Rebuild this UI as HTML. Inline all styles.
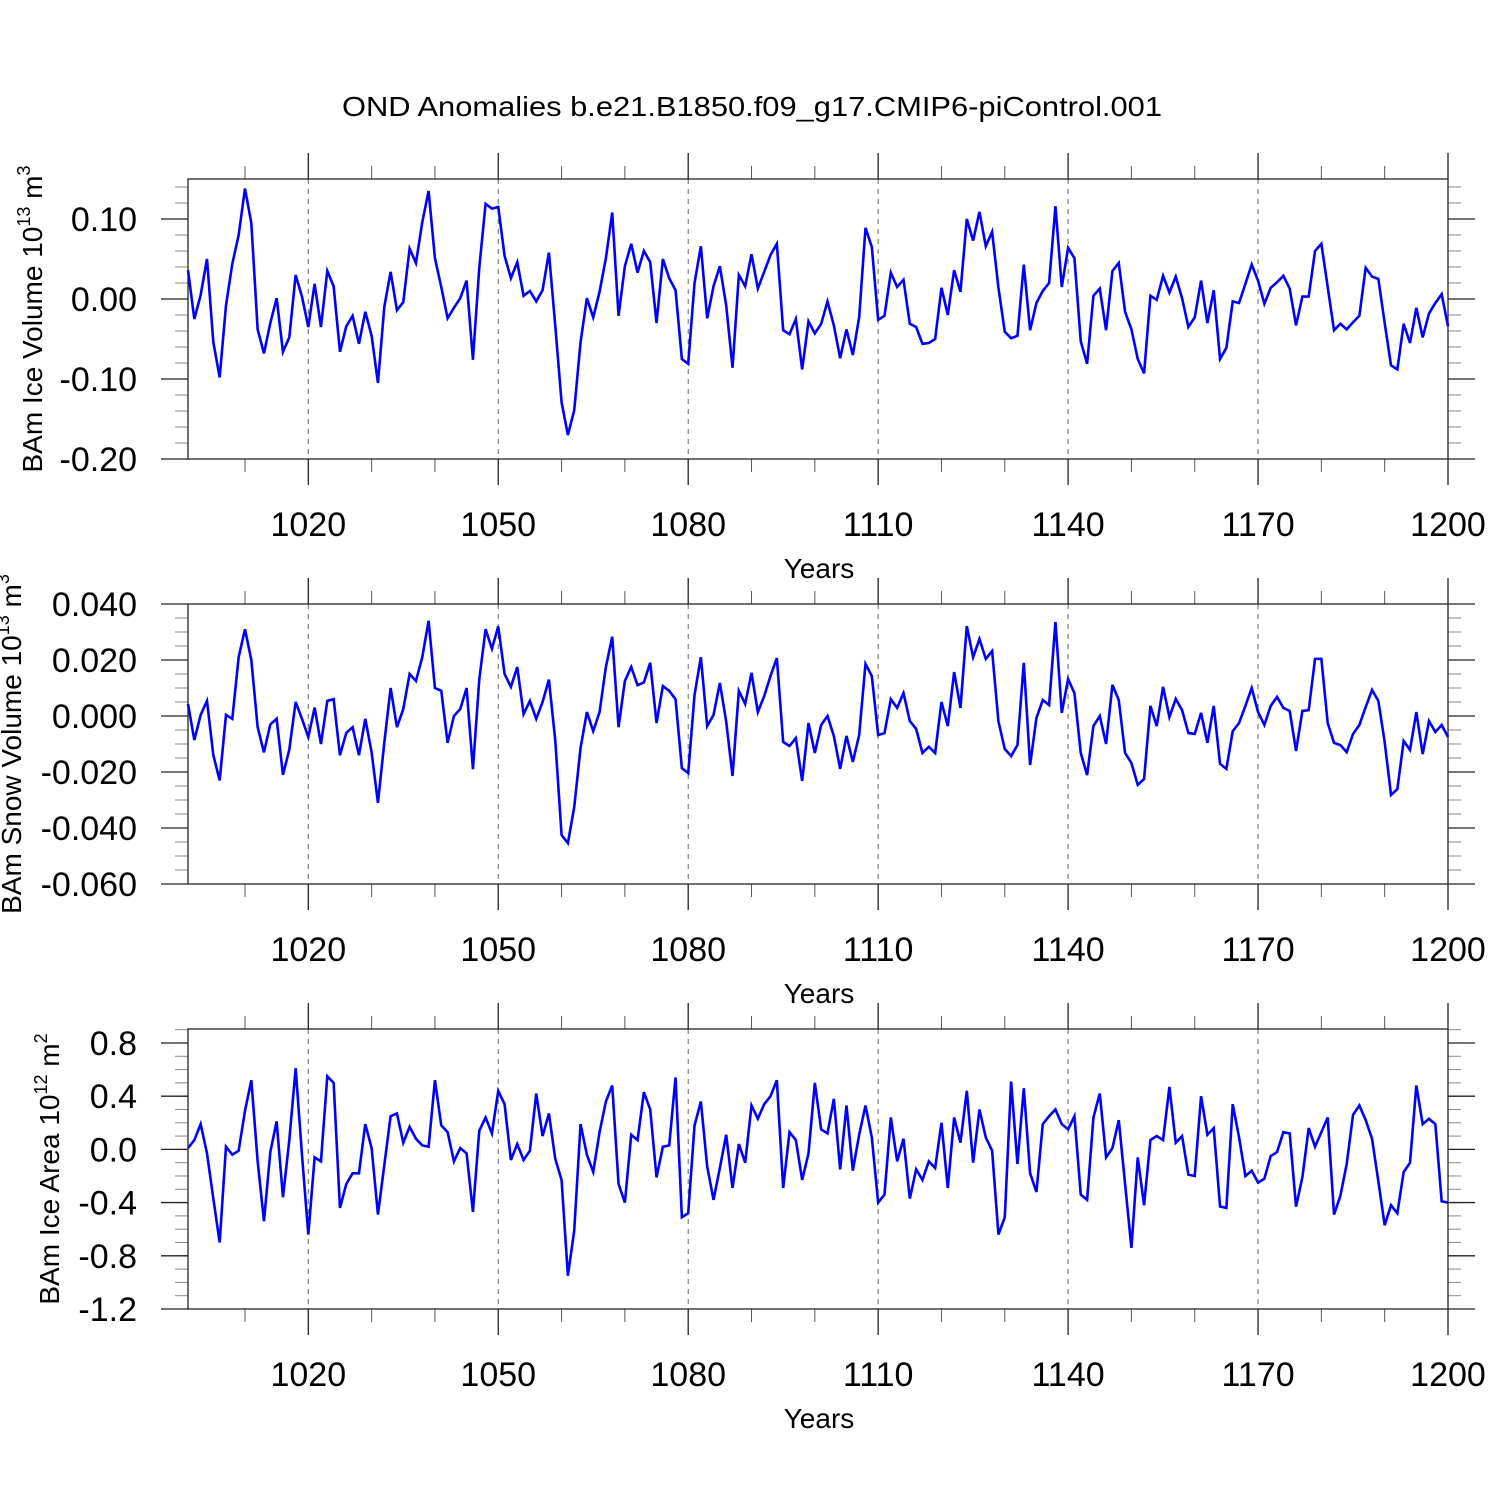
<!DOCTYPE html>
<html><head><meta charset="utf-8"><style>
html,body{margin:0;padding:0;background:#fff;}
svg{display:block;font-family:"Liberation Sans",Arial,sans-serif;}
</style></head><body>
<svg id="chart" width="1500" height="1500" viewBox="0 0 1500 1500" xmlns="http://www.w3.org/2000/svg">
<rect width="1500" height="1500" fill="#fff"/>
<text x="752" y="116" font-size="28" text-anchor="middle" textLength="820" lengthAdjust="spacingAndGlyphs">OND Anomalies b.e21.B1850.f09_g17.CMIP6-piControl.001</text>
<g id="panels"></g>
</svg>
<script>
const years = []; for (let y = 1001; y <= 1200; y++) years.push(y);
const xTicks = [1020,1050,1080,1110,1140,1170,1200];
const xMinor = [1010,1030,1040,1060,1070,1090,1100,1120,1130,1150,1160,1180,1190];

const iceVolume = [0.036,-0.025,0.005,0.05,-0.054,-0.098,-0.008,0.044,0.08,0.138,
0.095,-0.038,-0.068,-0.03,0.001,-0.066,-0.048,0.03,0.003,-0.035,
0.019,-0.035,0.035,0.016,-0.066,-0.034,-0.021,-0.056,-0.016,-0.046,
-0.105,-0.01,0.034,-0.014,-0.004,0.063,0.045,0.096,0.135,0.051,
0.015,-0.024,-0.011,0.001,0.023,-0.076,0.039,0.119,0.113,0.115,
0.054,0.026,0.046,0.004,0.01,-0.003,0.011,0.058,-0.033,-0.129,
-0.17,-0.139,-0.054,0.001,-0.023,0.009,0.051,
0.108,-0.021,0.041,0.069,0.033,0.06,0.046,-0.03,0.05,0.026,
0.011,-0.075,-0.081,0.02,0.066,-0.024,0.016,0.041,-0.008,-0.086,
0.03,0.016,0.056,0.013,0.034,0.055,0.069,-0.039,-0.044,-0.025,
-0.088,-0.028,-0.043,-0.031,-0.003,-0.033,-0.074,-0.038,-0.07,-0.023,
0.089,0.065,-0.026,-0.021,0.033,0.015,0.024,-0.031,-0.035,-0.056,
-0.055,-0.05,0.014,-0.02,0.036,0.009,0.1,0.073,0.109,0.066,
0.084,0.014,-0.041,-0.049,-0.046,0.043,
-0.039,-0.005,0.01,0.02,0.116,0.015,0.064,0.051,-0.053,-0.081,
0.004,0.013,-0.039,0.035,0.045,-0.016,-0.038,-0.075,-0.093,0.004,
-0.001,0.029,0.008,0.028,0.001,-0.035,-0.023,0.023,-0.03,0.011,
-0.075,-0.061,-0.003,-0.005,0.019,0.043,0.023,-0.006,0.014,0.021,
0.029,0.013,-0.033,0.003,0.003,0.06,0.069,0.015,-0.039,-0.031,
-0.038,-0.029,-0.021,0.039,0.028,0.025,-0.03,-0.083,-0.088,-0.031,
-0.055,-0.011,-0.048,-0.018,-0.005,0.006,-0.034];

const snowVolume = [0.0043,-0.0086,0.0004,0.0054,-0.014,-0.023,0.0004,-0.001,0.021,0.031,
0.020,-0.004,-0.013,-0.003,-0.001,-0.021,-0.012,0.005,-0.001,-0.0075,
0.003,-0.010,0.0054,0.006,-0.014,-0.006,-0.004,-0.014,-0.001,-0.013,
-0.031,-0.0096,0.010,-0.004,0.0025,0.015,0.0125,0.021,0.034,0.010,
0.009,-0.0096,0,0.0025,0.010,-0.019,0.013,0.031,0.024,0.032,
0.015,0.0104,0.0175,0.0007,0.0054,-0.001,0.005,0.013,-0.0086,-0.0425,
-0.0454,-0.0325,-0.0114,0.0014,-0.0054,0.0014,0.0175,
0.0283,-0.004,0.0125,0.0175,0.011,0.012,0.019,-0.0025,0.0107,0.009,
0.006,-0.0186,-0.0204,0.0075,0.021,-0.0036,0.0004,0.0118,-0.002,-0.0214,
0.009,0.0043,0.0154,0.0014,0.0071,0.0143,0.0207,-0.0093,-0.0107,-0.0079,
-0.0232,-0.0025,-0.0132,-0.0032,0,-0.0071,-0.0189,-0.0071,-0.0164,-0.0068,
0.0186,0.0143,-0.0068,-0.0061,0.006,0.0029,0.0082,-0.0018,-0.0046,-0.0132,
-0.011,-0.0132,0.005,-0.0036,0.0157,0.0029,0.0321,0.021,0.0275,0.0204,
0.0232,-0.002,-0.0118,-0.0143,-0.0104,0.019,
-0.0175,-0.0007,0.0057,0.0039,0.0336,0.0011,0.0132,0.0082,-0.0132,-0.0211,
-0.0036,0,-0.01,0.0111,0.0057,-0.0132,-0.0168,-0.0246,-0.0225,0.0036,
-0.0036,0.0104,-0.0004,0.0061,0.0021,-0.0061,-0.0064,0.0011,-0.0096,0.0036,
-0.0171,-0.0189,-0.0054,-0.0025,0.0036,0.01,0.0014,-0.0032,0.0036,0.0068,
0.0029,0.0018,-0.0125,0.0018,0.0021,0.0204,0.0204,-0.0025,-0.0096,-0.0104,
-0.0129,-0.0064,-0.0032,0.0032,0.0093,0.0054,-0.0093,-0.0282,-0.0261,-0.0089,
-0.0121,0.0014,-0.0136,-0.0018,-0.0057,-0.0032,-0.0075];

const iceArea = [0.01,0.07,0.19,-0.03,-0.37,-0.70,0.02,-0.04,-0.01,0.29,
0.52,-0.09,-0.54,-0.02,0.21,-0.36,0.07,0.61,-0.04,-0.64,
-0.06,-0.09,0.55,0.50,-0.44,-0.26,-0.18,-0.18,0.19,0.01,
-0.49,-0.12,0.25,0.27,0.05,0.17,0.08,0.03,0.02,0.52,
0.18,0.13,-0.09,0.01,-0.03,-0.47,0.14,0.24,0.12,0.44,
0.34,-0.08,0.04,-0.08,-0.01,0.42,0.10,0.27,-0.07,-0.23,
-0.95,-0.61,0.19,-0.04,-0.17,0.13,0.36,
0.48,-0.26,-0.40,0.11,0.07,0.43,0.30,-0.21,0.02,0.03,
0.54,-0.51,-0.48,0.18,0.36,-0.13,-0.38,-0.14,0.11,-0.29,
0.04,-0.10,0.33,0.23,0.34,0.40,0.52,-0.29,0.13,0.07,
-0.23,-0.03,0.50,0.15,0.12,0.38,-0.15,0.33,-0.16,0.11,
0.33,0.09,-0.40,-0.34,0.24,-0.09,0.08,-0.37,-0.15,-0.23,
-0.09,-0.14,0.20,-0.29,0.24,0.05,0.44,-0.10,0.30,0.09,
-0.01,-0.64,-0.51,0.51,-0.11,0.46,
-0.18,-0.32,0.19,0.25,0.30,0.19,0.15,0.25,-0.34,-0.38,
0.24,0.42,-0.06,0.01,0.22,-0.26,-0.74,-0.06,-0.42,0.07,
0.10,0.07,0.47,0.05,0.10,-0.19,-0.20,0.40,0.11,0.16,
-0.43,-0.44,0.34,0.09,-0.20,-0.16,-0.25,-0.22,-0.05,-0.02,
0.13,0.12,-0.43,-0.21,0.16,0.02,0.13,0.24,-0.49,-0.35,
-0.11,0.26,0.33,0.22,0.08,-0.24,-0.57,-0.42,-0.48,-0.17,
-0.10,0.48,0.19,0.23,0.19,-0.39,-0.40];

const p1Ticks = [-0.2,-0.1,0,0.1];
const p1Labels = ["-0.20","-0.10","0.00","0.10"];
const p2Ticks = [-0.06,-0.04,-0.02,0,0.02,0.04];
const p2Labels = ["-0.060","-0.040","-0.020","0.000","0.020","0.040"];
const p3Ticks = [-1.2,-0.8,-0.4,0,0.4,0.8];
const p3Labels = ["-1.2","-0.8","-0.4","0.0","0.4","0.8"];

const NS = "http://www.w3.org/2000/svg";
const root = document.getElementById('panels');
const X0 = 188, X1 = 1448, H = 280;
function xs(yr){ return X0 + (yr - 1001) * (X1 - X0) / 199; }
function mk(tag, attrs, parent){ const e = document.createElementNS(NS, tag); for (const k in attrs) e.setAttribute(k, attrs[k]); (parent||root).appendChild(e); return e; }

const panels = [
 {top:179, min:-0.2, max:0.15, data:iceVolume, ticks:p1Ticks, labels:p1Labels, minorStep:0.02, title:["BAm Ice Volume 10","13"," m","3"], tx:42, name:"ice-volume"},
 {top:604, min:-0.06, max:0.04, data:snowVolume, ticks:p2Ticks, labels:p2Labels, minorStep:0.005, title:["BAm Snow Volume 10","13"," m","3"], tx:21, name:"snow-volume"},
 {top:1029, min:-1.2, max:0.905, data:iceArea, ticks:p3Ticks, labels:p3Labels, minorStep:0.1, title:["BAm Ice Area 10","12"," m","2"], tx:59, name:"ice-area"}
];

panels.forEach(p => {
  const g = mk('g', {});
  
  
  const bot = p.top + H;
  const ys = v => bot - (v - p.min) / (p.max - p.min) * H;
  // grid dashed lines
  xTicks.forEach(t => {
    if (t === 1200) return;
    const l = mk('line', {x1:xs(t), x2:xs(t), y1:p.top, y2:bot, stroke:'#666', 'stroke-width':1, 'stroke-dasharray':'5,5'}, g);
    
    
  });
  // x ticks top & bottom
  xTicks.forEach(t => {
    mk('line', {x1:xs(t), x2:xs(t), y1:p.top-26, y2:p.top, stroke:'#222', 'stroke-width':1.3}, g);
    mk('line', {x1:xs(t), x2:xs(t), y1:bot, y2:bot+26, stroke:'#222', 'stroke-width':1.3}, g);
    const tl = mk('text', {x:xs(t), y:bot+77, 'font-size':34, 'text-anchor':'middle'}, g);
    tl.textContent = t;
    
    
  });
  xMinor.forEach(t => {
    mk('line', {x1:xs(t), x2:xs(t), y1:p.top-13, y2:p.top, stroke:'#555', 'stroke-width':1}, g);
    mk('line', {x1:xs(t), x2:xs(t), y1:bot, y2:bot+13, stroke:'#555', 'stroke-width':1}, g);
  });
  // y minor
  const n = Math.round((p.max - p.min) / p.minorStep);
  for (let i = 0; i <= n; i++) {
    const v = p.min + i * p.minorStep;
    if (v > p.max + 1e-9) break;
    const y = ys(v);
    mk('line', {x1:X0-13, x2:X0, y1:y, y2:y, stroke:'#888', 'stroke-width':1}, g);
    mk('line', {x1:X1, x2:X1+13, y1:y, y2:y, stroke:'#888', 'stroke-width':1}, g);
  }
  p.ticks.forEach((t, i) => {
    const y = ys(t);
    mk('line', {x1:X0-27, x2:X0, y1:y, y2:y, stroke:'#222', 'stroke-width':1.3}, g);
    mk('line', {x1:X1, x2:X1+27, y1:y, y2:y, stroke:'#222', 'stroke-width':1.3}, g);
    const tl = mk('text', {x:137, y:y+12, 'font-size':34, 'text-anchor':'end'}, g);
    tl.textContent = p.labels[i];
    
    
  });
  // frame
  const fr = mk('rect', {x:X0, y:p.top, width:X1-X0, height:H, fill:'none', stroke:'#222', 'stroke-width':1.3}, g);
  
  
  // line
  const pts = p.data.map((v, i) => xs(years[i]).toFixed(2) + ',' + ys(v).toFixed(2)).join(' ');
  const pl = mk('polyline', {points:pts, fill:'none', stroke:'#0000ff', 'stroke-width':2.6, 'stroke-linejoin':'miter'}, g);
  
  
  // x axis title
  const xt = mk('text', {x:819, y:bot+119, 'font-size':28, 'text-anchor':'middle'}, g);
  xt.textContent = 'Years';
  
  
  // y axis title
  const cy = p.top + H/2;
  const yt = mk('text', {x:0, y:0, 'font-size':28, 'text-anchor':'middle', transform:'translate(' + p.tx + ',' + cy + ') rotate(-90)'}, g);
  
  
  const a = mk('tspan', {}, yt); a.textContent = p.title[0];
  const b = mk('tspan', {'font-size':18, dy:-12}, yt); b.textContent = p.title[1];
  const c = mk('tspan', {dy:12}, yt); c.textContent = p.title[2];
  const d = mk('tspan', {'font-size':18, dy:-12}, yt); d.textContent = p.title[3];
});
</script>
</body></html>
